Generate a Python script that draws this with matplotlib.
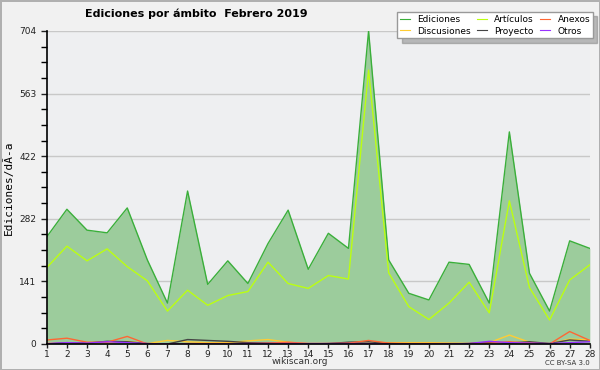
import matplotlib.pyplot as plt
import numpy as np

dias = np.arange(1, 29)
ediciones = [241, 303, 256, 250, 306, 189, 92, 344, 134, 187, 136, 226, 301, 168,
             249, 215, 704, 189, 114, 99, 184, 179, 92, 477, 159, 74, 232, 215]
articulos = [172, 220, 187, 214, 174, 142, 74, 121, 87, 109, 118, 184, 136, 125,
             154, 146, 616, 160, 84, 55, 92, 139, 70, 322, 127, 54, 144, 178]
anexos = [9, 13, 4, 4, 17, 0, 0, 1, 1, 1, 1, 2, 4, 1,
          1, 2, 8, 2, 1, 1, 1, 1, 2, 5, 2, 0, 28, 8]
discusiones = [2, 1, 2, 2, 6, 1, 8, 5, 3, 3, 7, 10, 4, 1,
               1, 1, 2, 3, 3, 3, 2, 1, 3, 20, 4, 1, 11, 9]
proyecto = [0, 3, 2, 6, 5, 1, 0, 10, 8, 6, 3, 2, 1, 0,
            1, 4, 5, 1, 0, 0, 0, 1, 4, 2, 5, 1, 9, 6]
otros = [1, 3, 2, 5, 3, 1, 0, 0, 0, 0, 1, 1, 1, 1,
         1, 1, 1, 0, 0, 0, 0, 1, 6, 3, 2, 1, 3, 5]
yticks = [0, 141, 282, 422, 563, 704]

fig = plt.figure(figsize=(6, 3.7), dpi=100, facecolor='#f1f1f1',
                 edgecolor='#b0b0b0', linewidth=2)
ax = fig.add_axes([0.078, 0.0703, 0.905, 0.846])
ax.set_facecolor('#eeeff1')

ax.fill_between(dias, 0, ediciones, color='#9ccc9c', lw=0)
ax.plot(dias, ediciones, color='#3aaf3a', lw=1, label='Ediciones')
ax.plot(dias, discusiones, color='#ffcc33', lw=1, label='Discusiones')
ax.plot(dias, articulos, color='#bbff11', lw=1, label='Artículos')
ax.plot(dias, proyecto, color='#444444', lw=1, label='Proyecto')
ax.plot(dias, anexos, color='#ff6633', lw=1, label='Anexos')
ax.plot(dias, otros, color='#9933ff', lw=1, label='Otros')

ax.set_xlim(1, 28)
ax.set_ylim(0, 704)
ax.set_xticks(dias)
ax.set_yticks(yticks)
ax.set_yticks([t for i in range(5) for t in np.linspace(yticks[i], yticks[i + 1], 5)[1:-1]], minor=True)
ax.tick_params(axis='both', labelsize=6.5, colors='#222222', length=4, width=1)
ax.tick_params(axis='y', which='minor', length=4, width=1)
ax.tick_params(axis='x', length=3, pad=1)
ax.grid(axis='y', color='#c8c8c8', lw=1)
ax.set_axisbelow(True)
for s in ['top', 'right']:
    ax.spines[s].set_visible(False)
for s in ['left', 'bottom']:
    ax.spines[s].set_linewidth(1.2)
ax.set_ylabel('Ediciones/dÃ-a', fontsize=8, family='DejaVu Sans Mono', labelpad=4)

fig.text(0.142, 0.962, 'Ediciones por ámbito  Febrero 2019', fontsize=8,
         fontweight='bold', ha='left', va='center')
fig.text(0.5, 0.022, 'wikiscan.org', fontsize=6.5, ha='center', va='center', color='#333333')
fig.text(0.983, 0.02, 'CC BY-SA 3.0', fontsize=5, ha='right', va='center', color='#333333')

leg = fig.legend(loc='upper right', bbox_to_anchor=(0.988, 0.967), ncol=3, fontsize=6.5,
                 frameon=True, fancybox=False, shadow={'color': '#808080', 'ox': 3, 'oy': -3},
                 handlelength=1.1, handletextpad=0.8, columnspacing=0.7,
                 labelspacing=0.3, borderpad=0.3, borderaxespad=0)
leg.get_frame().set_edgecolor('#999999')
leg.get_frame().set_facecolor('white')
for h in leg.get_lines():
    h.set_linewidth(0.8)

fig.savefig('out.png', dpi=100, facecolor=fig.get_facecolor(), edgecolor=fig.get_edgecolor())
